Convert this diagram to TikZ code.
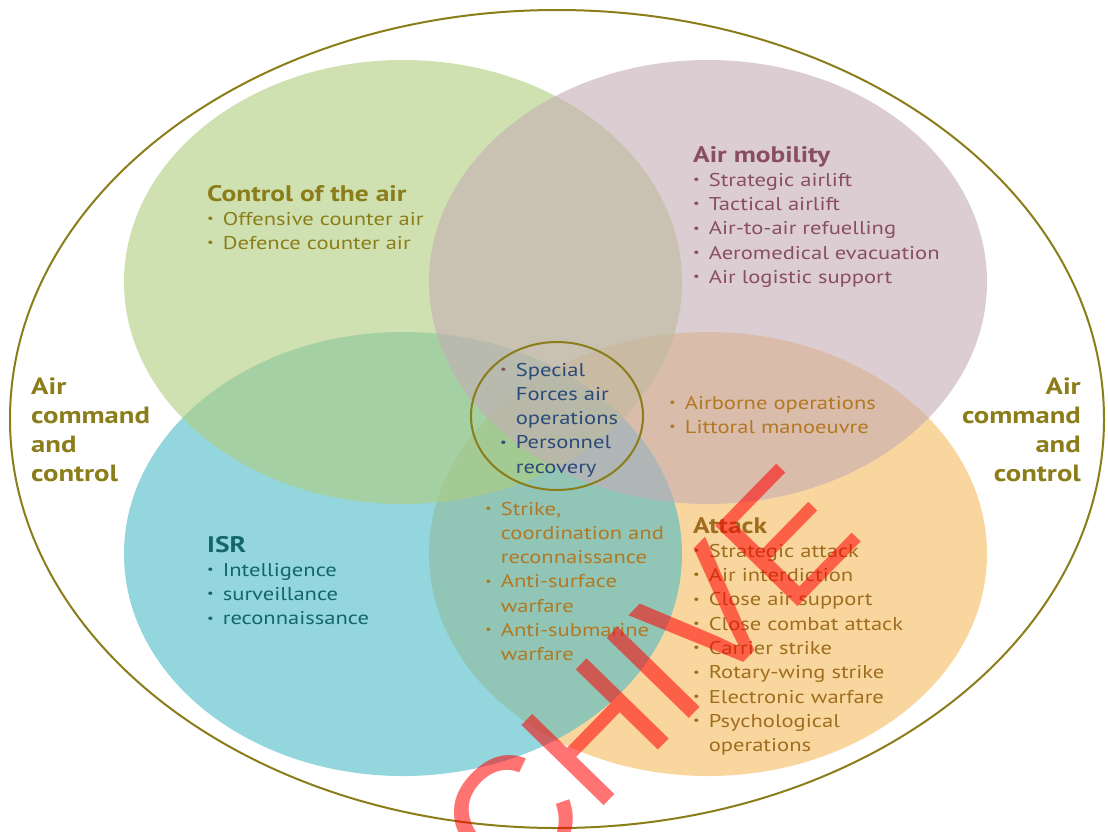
\documentclass[tikz,border=0pt]{standalone}
\usepackage{fontspec}
\setmainfont{PT Sans}[FakeStretch=1.22]
\newfontfamily\wmfont{Liberation Sans}
\usepackage{tikz}
\definecolor{olv}{RGB}{139,125,25}
\definecolor{mobtxt}{RGB}{137,78,99}
\definecolor{navy}{RGB}{42,74,122}
\definecolor{amber}{RGB}{178,120,34}
\definecolor{atktxt}{RGB}{158,110,30}
\definecolor{isrtxt}{RGB}{18,102,108}
\definecolor{ctrlfill}{RGB}{177,205,125}
\definecolor{mobfill}{RGB}{197,172,180}
\definecolor{isrfill}{RGB}{75,188,200}
\definecolor{atkfill}{RGB}{248,187,95}
\newcommand{\bul}{\raisebox{.3ex}{\scalebox{.65}{\textbullet}}}
\newcommand{\hd}[1]{\multicolumn{2}{@{}l@{}}{\bfseries\fontsize{22.5}{24.3}\selectfont #1}}
\tikzset{
  lst/.style={inner sep=0pt,anchor=base west,font=\fontsize{18.5}{24.3}\selectfont},
  cmd/.style={inner sep=0pt,text=olv,font=\bfseries\fontsize{23.5}{29}\selectfont},
  blob/.style={fill opacity=.6}
}

\begin{document}
\begin{tikzpicture}[x=1pt,y=-1pt]
	\useasboundingbox (0,0) rectangle (1108,831);
	\fill[white] (0,0) rectangle (1108,831);
	% the four roles
	\fill[blob,atkfill] (708,554) ellipse [x radius=279pt,y radius=222pt];
	\fill[blob,isrfill] (403,554) ellipse [x radius=279pt,y radius=222pt];
	\fill[blob,ctrlfill] (403,282) ellipse [x radius=279pt,y radius=222pt];
	\fill[blob,mobfill] (708,282) ellipse [x radius=279pt,y radius=222pt];
	\draw[olv,line width=2pt] (557,419) ellipse [x radius=547pt,y radius=409pt];
	\draw[olv,line width=2pt] (557,416) ellipse [x radius=86pt,y radius=74pt];

	\node[lst,text=olv] (ctrl) at (207,201) {\begin{tabular}[t]{@{}l@{\hspace{9pt}}l@{}}
		\hd{Control of the air}\\
		\bul & Offensive counter air\\
		\bul & Defence counter air
	\end{tabular}};
	\node[lst,text=mobtxt] (mob) at (693,162) {\begin{tabular}[t]{@{}l@{\hspace{9pt}}l@{}}
		\hd{Air mobility}\\
		\bul & Strategic airlift\\
		\bul & Tactical airlift\\
		\bul & Air-to-air refuelling\\
		\bul & Aeromedical evacuation\\
		\bul & Air logistic support
	\end{tabular}};
	\node[lst,text=isrtxt] (isr) at (207,552) {\begin{tabular}[t]{@{}l@{\hspace{9pt}}l@{}}
		\hd{ISR}\\
		\bul & Intelligence\\
		\bul & surveillance\\
		\bul & reconnaissance
	\end{tabular}};
	\node[lst,text=atktxt] (atk) at (693,533) {\begin{tabular}[t]{@{}l@{\hspace{9pt}}l@{}}
		\hd{Attack}\\
		\bul & Strategic attack\\
		\bul & Air interdiction\\
		\bul & Close air support\\
		\bul & Close combat attack\\
		\bul & Carrier strike\\
		\bul & Rotary-wing strike\\
		\bul & Electronic warfare\\
		\bul & Psychological\\
		& operations
	\end{tabular}};

	% overlaps
	\node[lst,text=navy] (sof) at (500,376) {\begin{tabular}[t]{@{}l@{\hspace{9pt}}l@{}}
		\textcolor{mobtxt}{\bul} & Special\\
		& Forces air\\
		& operations\\
		\bul & Personnel\\
		& recovery
	\end{tabular}};
	\node[lst,text=amber] (abn) at (669,409) {\begin{tabular}[t]{@{}l@{\hspace{9pt}}l@{}}
		\bul & Airborne operations\\
		\bul & Littoral manoeuvre
	\end{tabular}};
	\node[lst,text=amber] (strk) at (485,515) {\begin{tabular}[t]{@{}l@{\hspace{9pt}}l@{}}
		\bul & Strike,\\
		& coordination and\\
		& reconnaissance\\
		\bul & Anti-surface\\
		& warfare\\
		\bul & Anti-submarine\\
		& warfare
	\end{tabular}};

	\node[cmd,anchor=base west] (c2 left) at (31,394) {\begin{tabular}[t]{@{}l@{}}Air\\ command\\ and\\ control\end{tabular}};
	\node[cmd,anchor=base east] (c2 right) at (1081,394) {\begin{tabular}[t]{@{}r@{}}Air\\ command\\ and\\ control\end{tabular}};

	\node[inner sep=0pt,anchor=base west,rotate=45.7,text=red,opacity=.55,font=\wmfont\fontsize{167}{167}\selectfont] (stamp) at (348,1068) {ARCHIVE};
\end{tikzpicture}
\end{document}
